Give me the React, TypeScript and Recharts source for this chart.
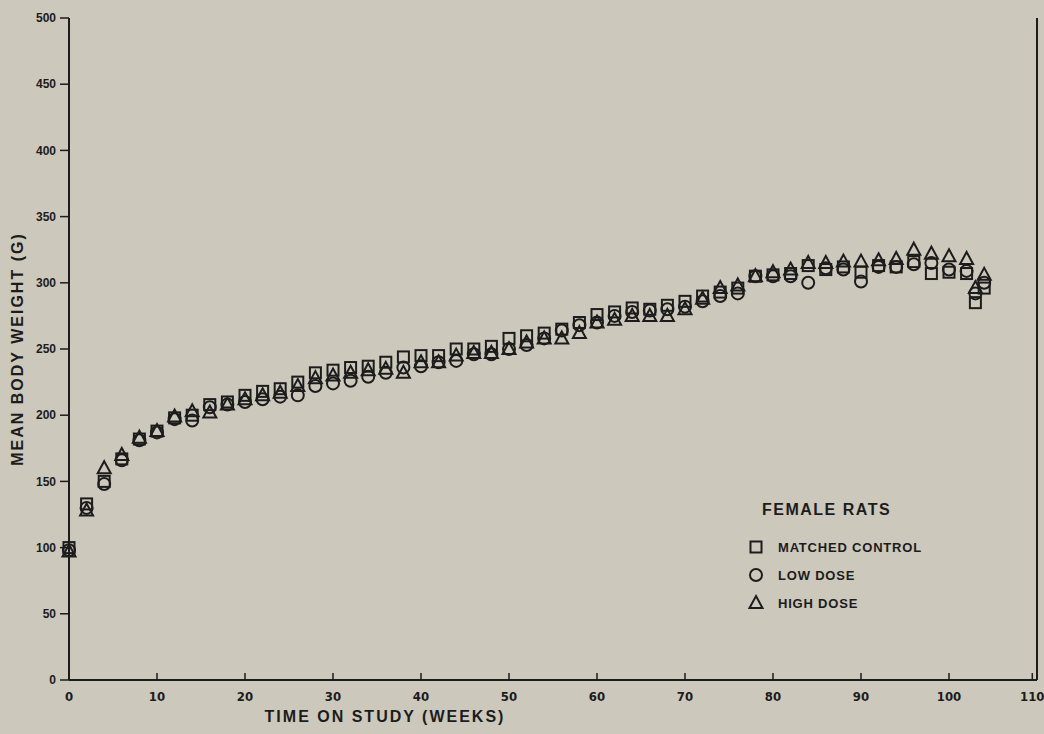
import React from 'react';
import { ScatterChart, Scatter, XAxis, YAxis, ReferenceLine } from 'recharts';

const weeks = [0, 2, 4, 6, 8, 10, 12, 14, 16, 18, 20, 22, 24, 26, 28, 30, 32, 34, 36, 38, 40, 42, 44, 46, 48, 50, 52, 54, 56, 58, 60, 62, 64, 66, 68, 70, 72, 74, 76, 78, 80, 82, 84, 86, 88, 90, 92, 94, 96, 98, 100, 102, 103, 104];

const controlWeights = [100, 133, 150, 167, 182, 188, 198, 200, 208, 210, 215, 218, 220, 225, 232, 234, 236, 237, 240, 244, 245, 245, 250, 250, 252, 258, 260, 262, 265, 270, 276, 278, 281, 280, 283, 286, 290, 293, 296, 305, 306, 307, 313, 310, 312, 308, 313, 312, 316, 307, 308, 307, 285, 296];
const lowDoseWeights = [98, 130, 148, 166, 181, 187, 197, 196, 206, 208, 210, 212, 214, 215, 222, 224, 226, 229, 232, 236, 237, 240, 241, 246, 246, 250, 253, 258, 264, 268, 270, 275, 278, 279, 280, 282, 286, 290, 292, 305, 305, 305, 300, 311, 310, 301, 312, 312, 314, 315, 310, 309, 292, 300];
const highDoseWeights = [97, 128, 160, 170, 183, 188, 199, 203, 202, 208, 212, 215, 217, 222, 228, 230, 232, 234, 235, 232, 240, 240, 245, 247, 247, 250, 255, 258, 258, 262, 270, 272, 275, 275, 275, 280, 288, 296, 298, 305, 308, 310, 315, 315, 316, 316, 317, 318, 325, 322, 320, 318, 296, 306];

const xTicks = [0, 10, 20, 30, 40, 50, 60, 70, 80, 90, 100, 110];
const yTicks = [0, 50, 100, 150, 200, 250, 300, 350, 400, 450, 500];

const toPoints = (vals: number[]) => weeks.map((w, i) => ({ week: w, weight: vals[i] }));
const controlData = toPoints(controlWeights);
const lowData = toPoints(lowDoseWeights);
const highData = toPoints(highDoseWeights);

const INK = '#1c1c1c';
const BG = '#ccc8bc';
const SANS = "'Liberation Sans', Arial, sans-serif";

const SquareMark = (p: any) => (
  <rect x={p.cx - 5.5} y={p.cy - 5.5} width={11} height={11} fill="none" stroke={INK} strokeWidth={2} />
);
const CircleMark = (p: any) => (
  <circle cx={p.cx} cy={p.cy} r={6} fill="none" stroke={INK} strokeWidth={2} />
);
const TriangleMark = (p: any) => (
  <path d={`M${p.cx},${p.cy - 7} L${p.cx + 6.5},${p.cy + 5} L${p.cx - 6.5},${p.cy + 5} Z`} fill="none" stroke={INK} strokeWidth={2} />
);

const XTick = (p: any) => (
  <g>
    <line x1={p.x} x2={p.x} y1={p.y} y2={p.y - 7} stroke={INK} strokeWidth={1.5} />
    <text x={p.x} y={p.y + 21} textAnchor="middle" fill={INK} fontSize={13} fontWeight={700}
      fontFamily="'Liberation Sans Narrow', 'DejaVu Sans Condensed', sans-serif">
      {p.payload.value}
    </text>
  </g>
);

// legend drawn over the plot, bottom right
const LegendBox = () => (
  <svg width={240} height={140} style={{ position: 'absolute', left: 735, top: 490 }}>
    <text x={27} y={25} fontSize={16} fontWeight={700} fill={INK} fontFamily={SANS} letterSpacing={1.5}>FEMALE RATS</text>
    <rect x={15.5} y={51.5} width={11} height={11} fill="none" stroke={INK} strokeWidth={2} />
    <circle cx={21} cy={85} r={6} fill="none" stroke={INK} strokeWidth={2} />
    <path d="M21,106 L27.5,118 L14.5,118 Z" fill="none" stroke={INK} strokeWidth={2} />
    <g fontSize={13} fontWeight={700} fill={INK} fontFamily={SANS} letterSpacing={0.8}>
      <text x={43} y={62}>MATCHED CONTROL</text>
      <text x={43} y={90}>LOW DOSE</text>
      <text x={43} y={118}>HIGH DOSE</text>
    </g>
  </svg>
);

export default function App() {
  return (
    <div style={{ position: 'absolute', left: 0, top: 0, width: 1044, height: 734, background: BG }}>
      <ScatterChart width={1044} height={734} margin={{ top: 18, right: 7, bottom: 24, left: 0 }}>
        <XAxis
          type="number"
          dataKey="week"
          domain={[0, 110]}
          ticks={xTicks}
          height={30}
          tickSize={0}
          tickMargin={0}
          tick={<XTick />}
          axisLine={{ stroke: INK, strokeWidth: 2 }}
          label={{
            value: 'TIME ON STUDY (WEEKS)',
            position: 'insideBottom',
            offset: -12,
            dx: -168,
            fill: INK,
            fontSize: 16,
            fontWeight: 700,
            letterSpacing: 2,
            fontFamily: SANS,
          }}
        />
        <YAxis
          type="number"
          dataKey="weight"
          domain={[0, 500]}
          ticks={yTicks}
          width={69}
          tickSize={9}
          tickMargin={4}
          tick={{ fill: INK, fontSize: 12, fontWeight: 700, fontFamily: SANS }}
          tickLine={{ stroke: INK, strokeWidth: 1.5 }}
          axisLine={{ stroke: INK, strokeWidth: 2 }}
          label={{
            value: 'MEAN BODY WEIGHT (G)',
            angle: -90,
            position: 'insideLeft',
            offset: 17,
            style: { textAnchor: 'middle' },
            fill: INK,
            fontSize: 16,
            fontWeight: 700,
            letterSpacing: 2,
            fontFamily: SANS,
          }}
        />
        <ReferenceLine x={110} stroke={INK} strokeWidth={2} />
        <Scatter name="MATCHED CONTROL" data={controlData} shape={SquareMark} isAnimationActive={false} />
        <Scatter name="LOW DOSE" data={lowData} shape={CircleMark} isAnimationActive={false} />
        <Scatter name="HIGH DOSE" data={highData} shape={TriangleMark} isAnimationActive={false} />
      </ScatterChart>
      <LegendBox />
    </div>
  );
}
